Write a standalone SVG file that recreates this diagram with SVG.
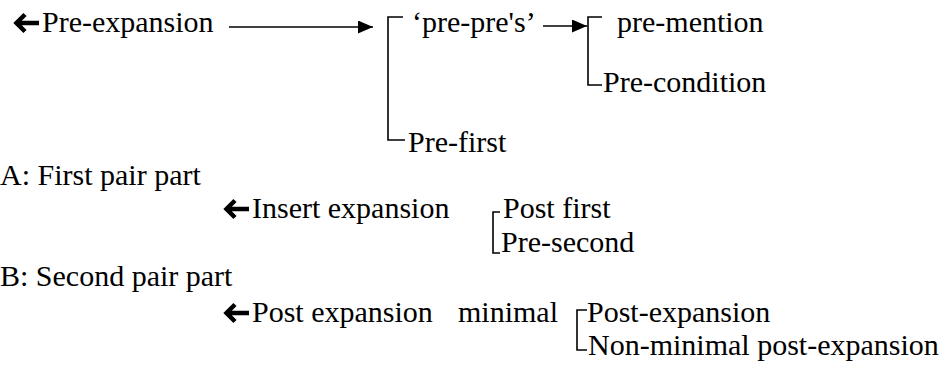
<svg xmlns="http://www.w3.org/2000/svg" width="942" height="366" viewBox="0 0 942 366" font-family="Liberation Serif" font-size="30">
<style>
.ln{stroke:#000;stroke-width:1.6;fill:none}
.la{stroke:#000;fill:none;stroke-width:4.5;stroke-linejoin:miter}
</style>
<defs>
<marker id="ah" viewBox="0 0 15 13" refX="15" refY="6.5" markerWidth="15" markerHeight="13" markerUnits="userSpaceOnUse" orient="auto"><path d="M0,0 L15,6.5 L0,13 Z" fill="#000"/></marker>
</defs>
<rect width="942" height="366" fill="#fff"/>
<g id="connectors">
<line class="ln" x1="229" y1="27" x2="373" y2="27" marker-end="url(#ah)"/>
<line class="ln" x1="543" y1="26" x2="587" y2="26" marker-end="url(#ah)"/>
<path class="ln" d="M403,17 H388 V140 H405"/>
<path class="ln" d="M602,17 H588 V85 H602"/>
<path class="ln" d="M500,212 H493 V253 H500"/>
<path class="ln" d="M587,310 H577 V350 H587"/>
<path class="la" d="M25,14.5 L16.5,23 L25,31.5 M17,23 H39"/>
<path class="la" d="M235,200.5 L226.5,209 L235,217.5 M227,209 H249"/>
<path class="la" d="M235,304.5 L226.5,313 L235,321.5 M227,313 H249"/>
</g>
<text id="pre-expansion" x="42" y="32" font-family="Liberation Serif" font-size="30">Pre-expansion</text>
<text id="pre-pres" x="412" y="32" font-family="Liberation Serif" font-size="30">&#8216;pre-pre's&#8217;</text>
<text id="pre-mention" x="617" y="32" font-family="Liberation Serif" font-size="30">pre-mention</text>
<text id="pre-condition" x="603" y="92" font-family="Liberation Serif" font-size="30">Pre-condition</text>
<text id="pre-first" x="408" y="152" font-family="Liberation Serif" font-size="30">Pre-first</text>
<text id="first-pair-part" x="0" y="185" font-family="Liberation Serif" font-size="30">A: First pair part</text>
<text id="insert-expansion" x="252" y="218" font-family="Liberation Serif" font-size="30">Insert expansion</text>
<text id="post-first" x="503" y="218" font-family="Liberation Serif" font-size="30">Post first</text>
<text id="pre-second" x="501" y="252" font-family="Liberation Serif" font-size="30">Pre-second</text>
<text id="second-pair-part" x="0" y="286" font-family="Liberation Serif" font-size="30">B: Second pair part</text>
<text id="post-expansion" x="252" y="322" font-family="Liberation Serif" font-size="30">Post expansion</text>
<text id="minimal" x="458" y="322" font-family="Liberation Serif" font-size="30">minimal</text>
<text id="post-expansion-min" x="587" y="322" font-family="Liberation Serif" font-size="30">Post-expansion</text>
<text id="non-minimal" x="588" y="355" font-family="Liberation Serif" font-size="30">Non-minimal post-expansion</text>
</svg>
